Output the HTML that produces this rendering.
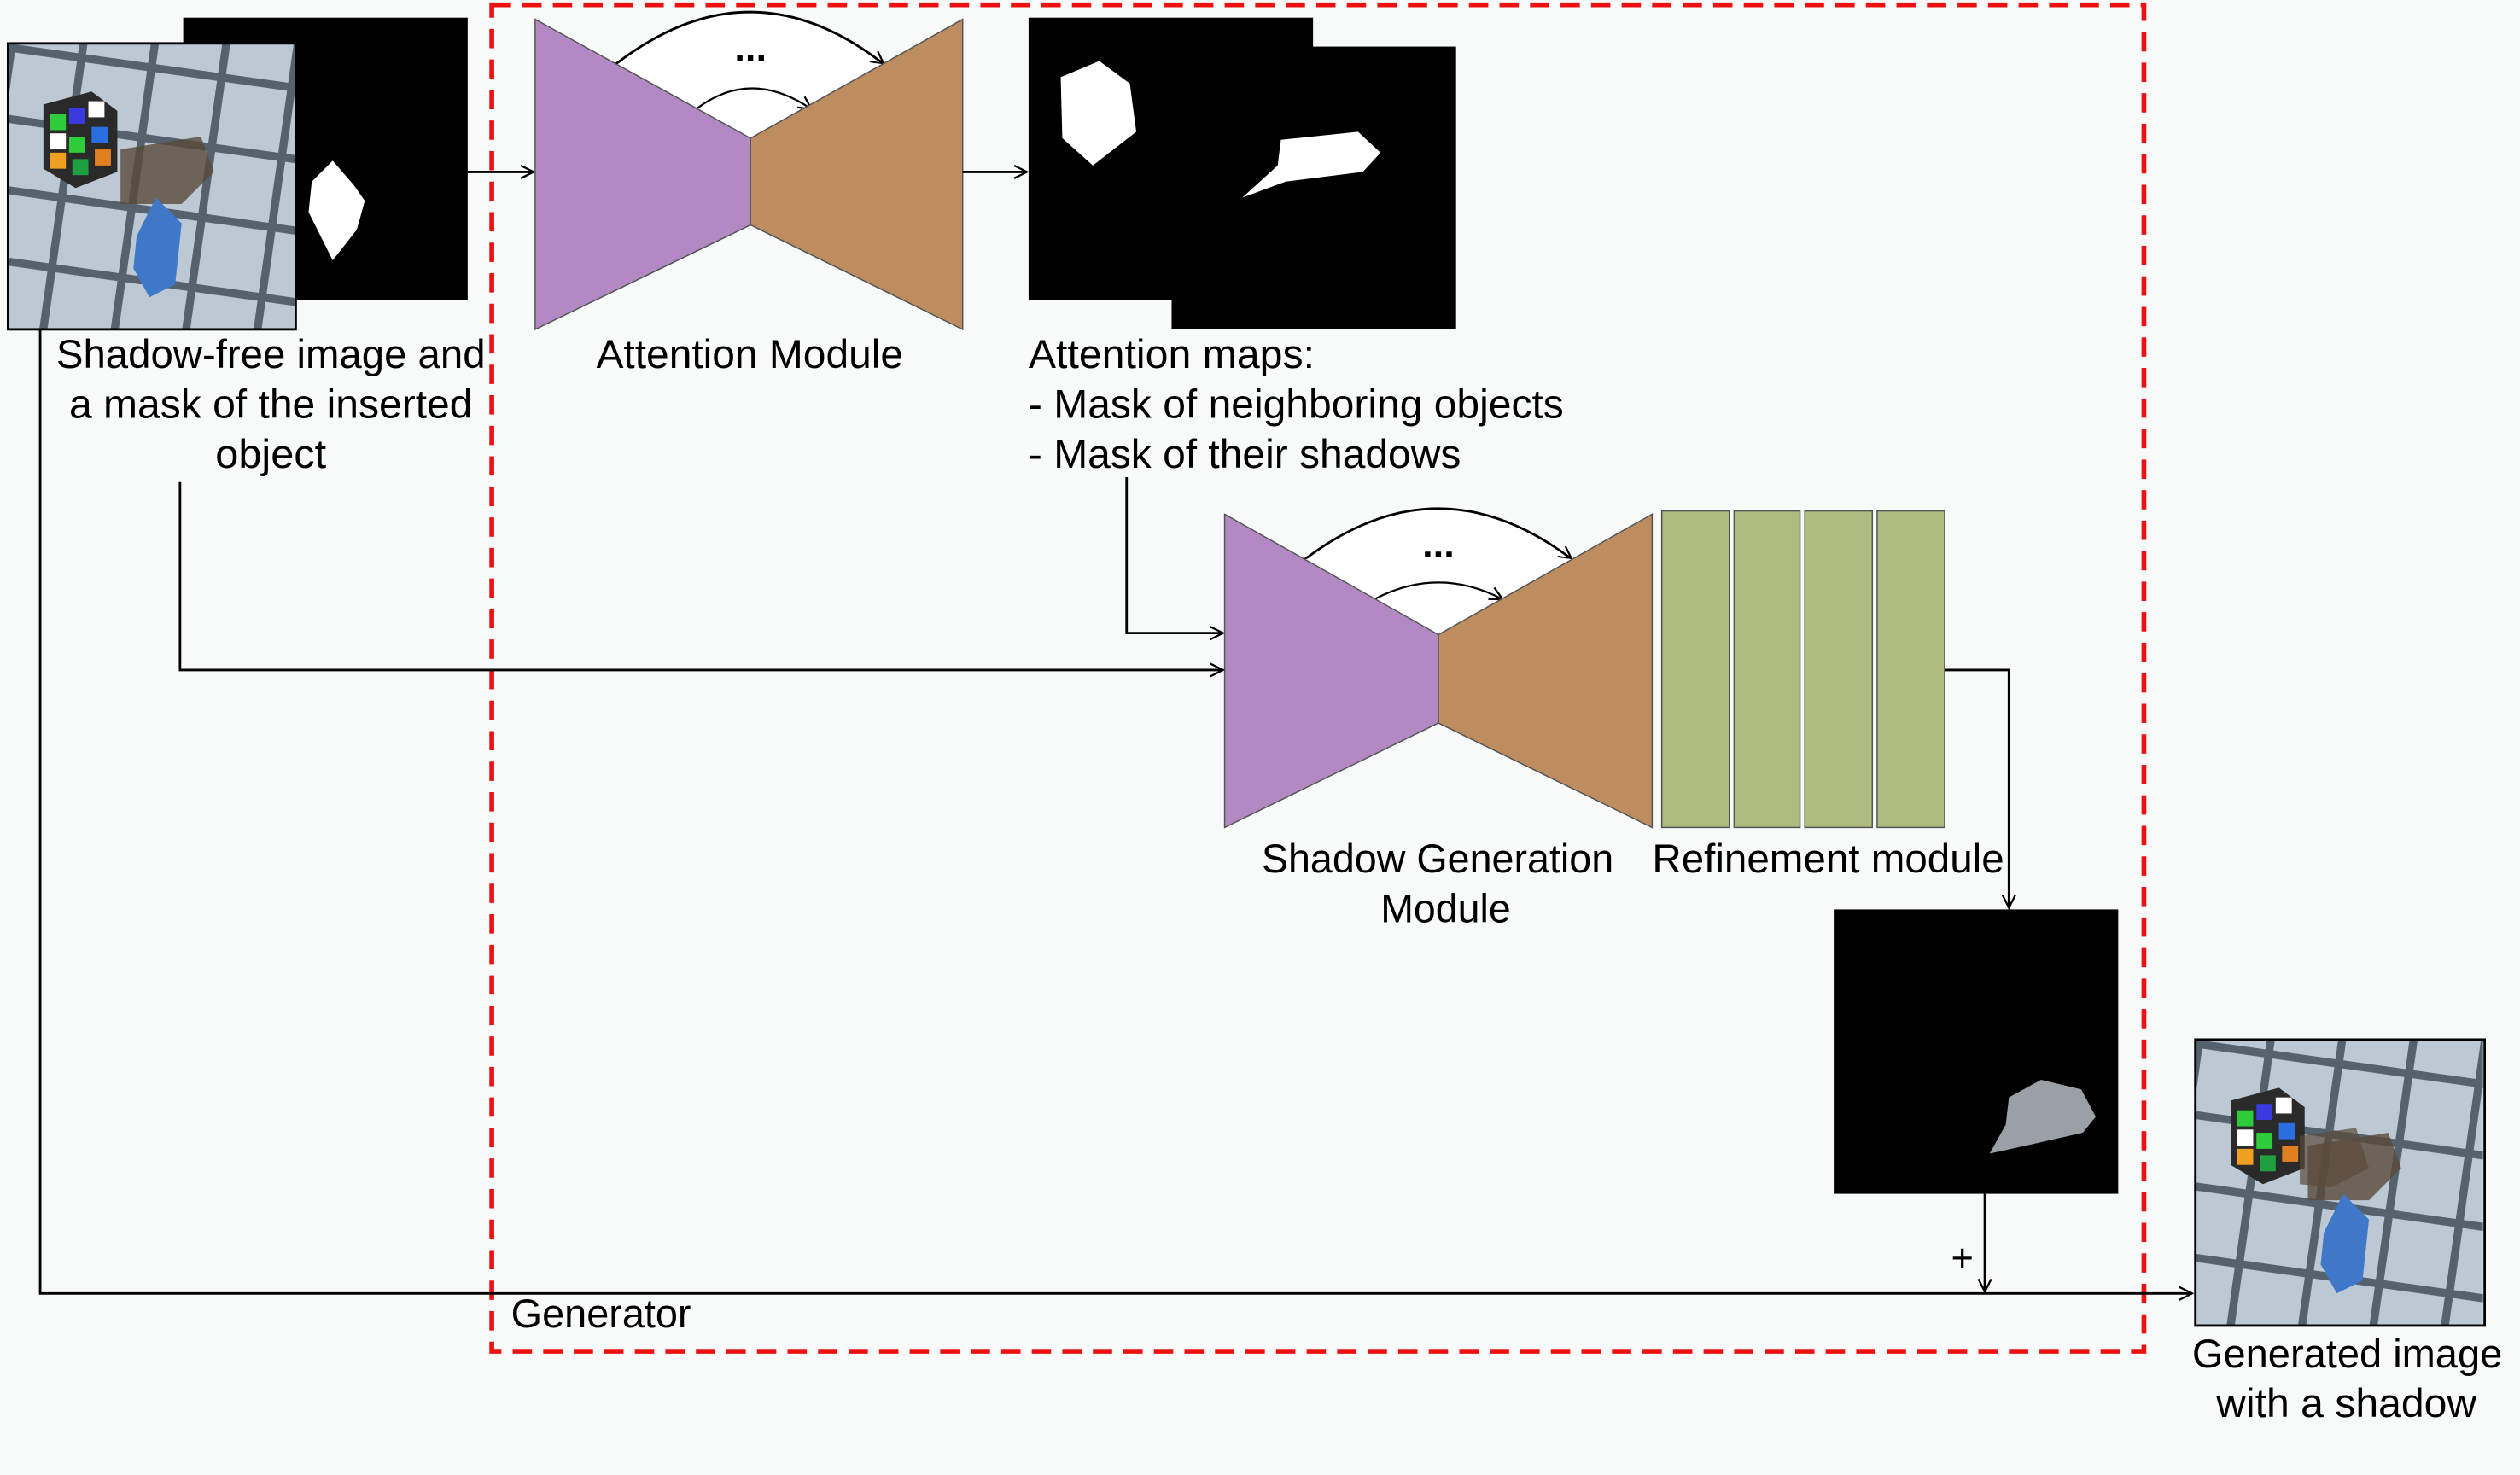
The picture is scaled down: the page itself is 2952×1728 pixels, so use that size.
<!DOCTYPE html>
<html><head><meta charset="utf-8"><style>
html,body{margin:0;padding:0;background:#f8f9f9;}
svg{display:block;}
text{font-family:"Liberation Sans",sans-serif;font-size:25px;fill:#000;}
</style></head><body>
<svg width="2952" height="1728" viewBox="0 0 1568 918" preserveAspectRatio="none" xmlns="http://www.w3.org/2000/svg">
<defs>
<marker id="ah" markerWidth="10" markerHeight="10" refX="9" refY="5" orient="auto" markerUnits="userSpaceOnUse">
<path d="M1,1 L9,5 L1,9" fill="none" stroke="#000" stroke-width="1.2"/></marker>
<pattern id="tiles" width="44" height="44" patternUnits="userSpaceOnUse" patternTransform="rotate(8)">
<rect width="44" height="44" fill="#bcc8d4"/><rect x="0" y="0" width="44" height="5" fill="#55616c"/><rect x="0" y="0" width="5" height="44" fill="#55616c"/>
</pattern>
<g id="photo">
<rect x="0" y="0" width="179" height="178" fill="url(#tiles)"/>
<polygon points="70,66 120,58 128,80 108,100 70,100" fill="#5a4a3a" opacity="0.8"/>
<polygon points="22,38 52,30 68,42 68,80 42,90 22,78" fill="#2a2a2a"/>
<rect x="26" y="44" width="10" height="10" fill="#2dcc3a"/><rect x="38" y="40" width="10" height="10" fill="#3a3ae0"/><rect x="50" y="36" width="10" height="10" fill="#ffffff"/>
<rect x="26" y="56" width="10" height="10" fill="#ffffff"/><rect x="38" y="58" width="10" height="10" fill="#2dcc3a"/><rect x="52" y="52" width="10" height="10" fill="#2a6ee0"/>
<rect x="26" y="68" width="10" height="10" fill="#f0a020"/><rect x="40" y="72" width="10" height="10" fill="#1fa040"/><rect x="54" y="66" width="10" height="10" fill="#e08020"/>
<polygon points="80,120 92,96 108,112 104,150 88,158 78,140" fill="#3f78c8"/>
</g>
</defs>

<rect x="114" y="11" width="177" height="176" fill="#000"/>
<polygon points="207,100 220,115 227,125 222,143 207,162 192,132 194,113" fill="#fff"/>
<g transform="translate(5,27)"><use href="#photo"/></g>
<rect x="5" y="27" width="179" height="178" fill="none" stroke="#000" stroke-width="1.5"/>

<rect x="306" y="3" width="1028" height="838" fill="none" stroke="#ee1111" stroke-width="3" stroke-dasharray="12,7"/>

<path d="M383,40 Q467,-25 550,40" fill="#fff" stroke="#000" stroke-width="1.5" marker-end="url(#ah)"/>
<polygon points="383,40 467,86 550,40 467,30" fill="#fff"/>
<path d="M433,68 Q467,42 505,68" fill="none" stroke="#000" stroke-width="1.2" marker-end="url(#ah)"/>
<text x="467" y="38" text-anchor="middle" style="font-size:24px;font-weight:bold">...</text>
<polygon points="333,12 467,86 467,140 333,205" fill="#b389c4" stroke="#555" stroke-width="0.8"/>
<polygon points="467,86 599,12 599,205 467,140" fill="#be8d5f" stroke="#555" stroke-width="0.8"/>
<line x1="291" y1="107" x2="332" y2="107" stroke="#000" stroke-width="1.5" marker-end="url(#ah)"/>
<line x1="599" y1="107" x2="639" y2="107" stroke="#000" stroke-width="1.5" marker-end="url(#ah)"/>

<rect x="640" y="11" width="177" height="176" fill="#000"/>
<polygon points="660,48 684,38 703,52 707,82 680,103 661,86" fill="#fff"/>
<rect x="729" y="29" width="177" height="176" fill="#000"/>
<polygon points="797,87 845,82 859,95 848,107 800,113 773,123 795,103" fill="#fff"/>

<path d="M812,348 Q895,285 978,348" fill="#fff" stroke="#000" stroke-width="1.5" marker-end="url(#ah)"/>
<polygon points="812,348 895,395 978,348 895,338" fill="#fff"/>
<path d="M855,373 Q895,352 935,373" fill="none" stroke="#000" stroke-width="1.2" marker-end="url(#ah)"/>
<text x="895" y="347" text-anchor="middle" style="font-size:24px;font-weight:bold">...</text>
<polygon points="762,320 895,395 895,450 762,515" fill="#b389c4" stroke="#555" stroke-width="0.8"/>
<polygon points="895,395 1028,320 1028,515 895,450" fill="#be8d5f" stroke="#555" stroke-width="0.8"/>

<g fill="#b0bb81" stroke="#555" stroke-width="0.8">
<rect x="1034" y="318" width="42" height="197"/><rect x="1079" y="318" width="41" height="197"/>
<rect x="1123" y="318" width="42" height="197"/><rect x="1168" y="318" width="42" height="197"/>
</g>

<g stroke="#000" stroke-width="1.5" fill="none">
<polyline points="25,205 25,805 1364,805" marker-end="url(#ah)"/>
<polyline points="112,300 112,417 761,417" marker-end="url(#ah)"/>
<polyline points="701,297 701,394 761,394" marker-end="url(#ah)"/>
<polyline points="1210,417 1250,417 1250,565" marker-end="url(#ah)"/>
<line x1="1235" y1="743" x2="1235" y2="804" marker-end="url(#ah)"/>
</g>

<rect x="1141" y="566" width="177" height="177" fill="#000"/>
<polygon points="1250,683 1270,672 1295,678 1304,695 1296,705 1265,712 1238,718 1248,700" fill="#9aa0a6"/>
<text x="1221" y="791" text-anchor="middle" style="font-size:24px">+</text>

<g transform="translate(1366,647)"><use href="#photo"/>
<polygon points="65,60 100,55 108,80 85,92 65,90" fill="#5a4a3a" opacity="0.7"/></g>
<rect x="1366" y="647" width="180" height="178" fill="none" stroke="#000" stroke-width="1.5"/>

<text x="35" y="229" textLength="267" lengthAdjust="spacingAndGlyphs">Shadow-free image and</text>
<text x="43" y="260" textLength="251" lengthAdjust="spacingAndGlyphs">a mask of the inserted</text>
<text x="134" y="291" textLength="69" lengthAdjust="spacingAndGlyphs">object</text>
<text x="371" y="229" textLength="191" lengthAdjust="spacingAndGlyphs">Attention Module</text>
<text x="640" y="229" textLength="178" lengthAdjust="spacingAndGlyphs">Attention maps:</text>
<text x="640" y="260" textLength="333" lengthAdjust="spacingAndGlyphs">- Mask of neighboring objects</text>
<text x="640" y="291" textLength="269" lengthAdjust="spacingAndGlyphs">- Mask of their shadows</text>
<text x="785" y="543" textLength="219" lengthAdjust="spacingAndGlyphs">Shadow Generation</text>
<text x="859" y="574" textLength="81" lengthAdjust="spacingAndGlyphs">Module</text>
<text x="1028" y="543" textLength="219" lengthAdjust="spacingAndGlyphs">Refinement module</text>
<text x="318" y="826" textLength="112" lengthAdjust="spacingAndGlyphs">Generator</text>
<text x="1364" y="851" textLength="193" lengthAdjust="spacingAndGlyphs">Generated image</text>
<text x="1379" y="882" textLength="162" lengthAdjust="spacingAndGlyphs">with a shadow</text>
</svg>
</body></html>
